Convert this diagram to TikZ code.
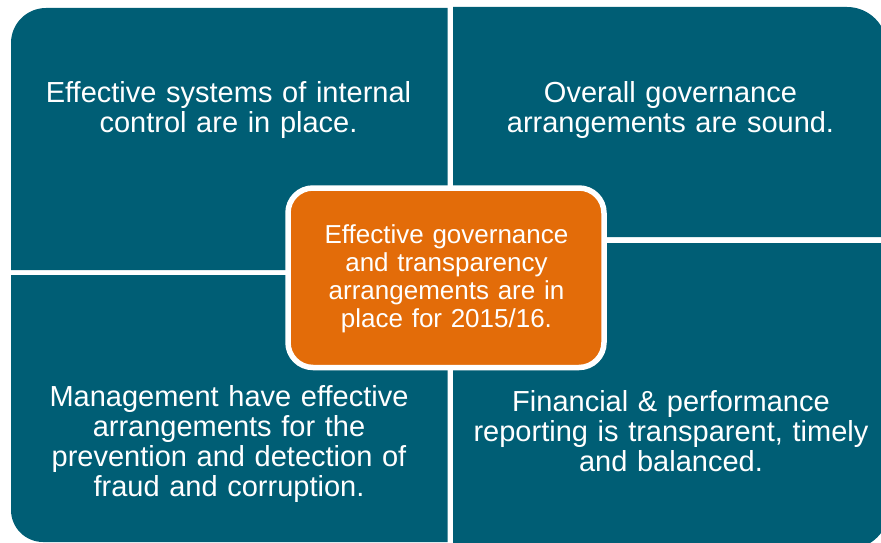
\documentclass[tikz,border=0pt]{standalone}
\usepackage{fontspec}
\setmainfont{Liberation Sans}
\definecolor{quadteal}{HTML}{005E75}
\definecolor{hubOrange}{HTML}{E36C09}
\tikzset{
  quad/.style={fill=quadteal},
  quadtext/.style={text=white, align=center, inner sep=0pt, text width=430pt,
    font=\fontsize{29}{30}\selectfont},
  hubbox/.style={rectangle, rounded corners=25pt, fill=hubOrange, draw=white,
    line width=5.5pt, minimum width=316pt, minimum height=179.5pt},
  hubtext/.style={text=white, align=center, inner sep=0pt, text width=300pt,
    font=\fontsize{26}{27.7}\selectfont}
}
\begin{document}
\begin{tikzpicture}[x=1pt,y=1pt]
\useasboundingbox (0,0) rectangle (881,542);
\begin{scope}
\clip (0,0) rectangle (881,542);
% top-left quadrant
\fill[quad] (447.5,272) -- (11,272) -- (11,499) arc[start angle=180,end angle=90,radius=35] -- (447.5,534) -- cycle;
% top-right quadrant
\fill[quad] (453,305) -- (453,535) -- (847,535) arc[start angle=90,end angle=0,radius=40] -- (887,305) -- cycle;
% bottom-left quadrant
\fill[quad] (447.5,267) -- (11,267) -- (11,32) arc[start angle=180,end angle=270,radius=32] -- (447.5,0) -- cycle;
% bottom-right quadrant
\fill[quad] (453,299) -- (889,299) -- (889,33) arc[start angle=0,end angle=-90,radius=40] -- (453,-7) -- cycle;
\end{scope}
\node[quadtext] (tl) at (228.5,432) {Effective systems of internal\\control are in place.};
\node[quadtext] (tr) at (670.5,432) {Overall governance\\arrangements are sound.};
\node[quadtext] (bl) at (229,97.5) {Management have effective\\arrangements for the\\prevention and detection of\\fraud and corruption.};
\node[quadtext] (br) at (671,111.1) {Financial \& performance\\reporting is transparent, timely\\and balanced.};
\node[hubbox] (hub) at (446,264.25) {};
\node[hubtext] (hubtxt) at (446.5,263.25) {Effective governance\\and transparency\\arrangements are in\\place for 2015/16.};
\end{tikzpicture}
\end{document}
